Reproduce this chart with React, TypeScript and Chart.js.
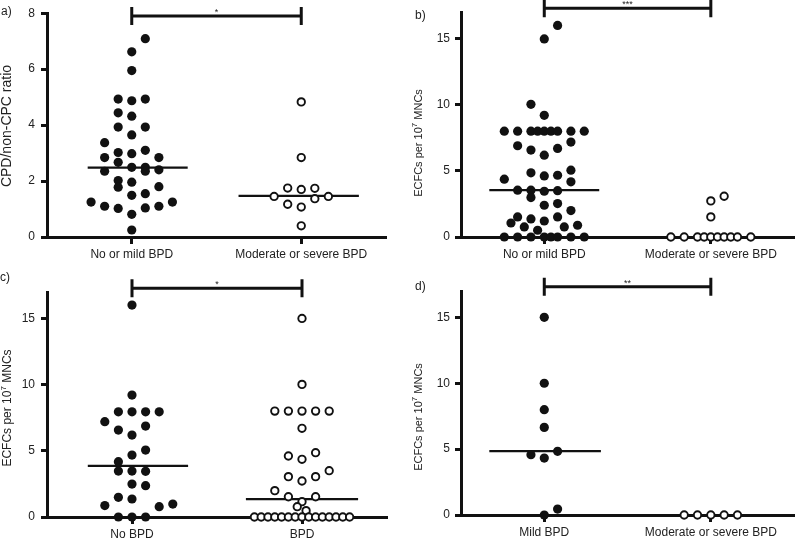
import React, { useEffect, useRef } from 'react';
import { Chart, registerables } from 'chart.js';

Chart.register(...registerables);

const FONT = '"Liberation Sans", Arial, Helvetica, sans-serif';
const INK = '#111';
const TEXT = '#222';
const COL_STEP = 0.08; // horizontal spacing of one dot column, in category units

// ---------- Panel a ----------
const aCategories = ['No or mild BPD', 'Moderate or severe BPD'];
const aYTicks = [0, 2, 4, 6, 8];
const aGroup1Values = [7.09, 6.62, 5.95, 4.93, 4.87, 4.93, 4.44, 4.32, 3.93, 3.93, 3.65, 3.37, 3.02, 2.98, 3.1, 2.84, 2.67, 2.84, 2.35, 2.49, 2.49, 2.35, 2.4, 2.02, 1.78, 1.96, 1.8, 1.49, 1.55, 1.25, 1.1, 1.02, 1.04, 1.1, 1.25, 0.81, 0.25];
const aGroup1Cols = [1, 0, 0, -1, 0, 1, -1, 0, -1, 1, 0, -2, -1, 0, 1, -2, -1, 2, -2, 0, 1, 1, 2, -1, -1, 0, 2, 0, 1, -3, -2, -1, 1, 2, 3, 0, 0];
const aGroup2Values = [4.83, 2.84, 1.75, 1.7, 1.74, 1.45, 1.45, 1.37, 1.17, 1.07, 0.4];
const aGroup2Cols = [0, 0, -1, 0, 1, -2, 2, 1, -1, 0, 0];
const aMedians = [2.48, 1.47];
const aStars = '*';

// ---------- Panel b ----------
const bCategories = ['No or mild BPD', 'Moderate or severe BPD'];
const bYTicks = [0, 5, 10, 15];
const bGroup1Values = [16.0, 14.98, 10.03, 9.2, 8, 8, 8, 8, 8, 8, 8, 8, 8, 6.9, 6.57, 6.19, 6.7, 7.18, 4.37, 4.85, 4.62, 4.67, 5.05, 4.17, 3.54, 3.54, 3.46, 3.5, 2.98, 2.4, 2.53, 2.0, 1.52, 1.37, 1.52, 1.06, 1.21, 0.76, 0.76, 0.89, 0.51, 0, 0, 0, 0, 0, 0, 0, 0];
const bGroup1Cols = [1, 0, -1, 0, -3, -2, -1, -0.5, 0, 0.5, 1, 2, 3, -2, -1, 0, 1, 2, -3, -1, 0, 1, 2, 2, -2, -1, 0, 1, -1, 0, 1, 2, -2, -1, 1, -2.5, 0, -1.5, 1.5, 2.5, -0.5, -3, -2, -1, 0, 0.5, 1, 2, 3];
const bGroup2Values = [0, 0, 0, 0, 0, 0, 0, 0, 0, 0, 1.52, 2.73, 3.08];
const bGroup2Cols = [-3, -2, -1, -0.5, 0, 0.5, 1, 1.5, 2, 3, 0, 0, 1];
const bMedians = [3.55, 0];
const bStars = '***';

// ---------- Panel c ----------
const cCategories = ['No BPD', 'BPD'];
const cYTicks = [0, 5, 10, 15];
const cGroup1Values = [16.01, 9.21, 7.95, 7.95, 7.95, 7.95, 7.2, 6.57, 6.87, 6.19, 5.06, 4.68, 4.18, 3.47, 3.47, 3.45, 2.49, 2.37, 1.49, 1.36, 0.86, 0.78, 0.98, 0, 0, 0];
const cGroup1Cols = [0, 0, -1, 0, 1, 2, -2, -1, 1, 0, 1, 0, -1, -1, 0, 1, 0, 1, -1, 0, -2, 2, 3, -1, 0, 1];
const cGroup2Values = [15.0, 10.02, 8, 8, 8, 8, 8, 6.7, 4.61, 4.36, 4.86, 3.5, 3.05, 2.72, 3.05, 1.99, 1.53, 1.53, 1.16, 0.78, 0.48, 0, 0, 0, 0, 0, 0, 0, 0, 0, 0, 0, 0, 0, 0, 0];
const cGroup2Cols = [0, 0, -2, -1, 0, 1, 2, 0, -1, 0, 1, 2, -1, 0, 1, -2, -1, 1, 0, -0.35, 0.3, -3.5, -3, -2.5, -2, -1.5, -1, -0.5, 0, 0.5, 1, 1.5, 2, 2.5, 3, 3.5];
const cMedians = [3.87, 1.35];
const cStars = '*';

// ---------- Panel d ----------
const dCategories = ['Mild BPD', 'Moderate or severe BPD'];
const dYTicks = [0, 5, 10, 15];
const dGroup1Values = [15.0, 10.0, 7.99, 6.65, 4.58, 4.32, 4.83, 0.45, 0];
const dGroup1Cols = [0, 0, 0, 0, -1, 0, 1, 1, 0];
const dGroup2Values = [0, 0, 0, 0, 0];
const dGroup2Cols = [-2, -1, 0, 1, 2];
const dMedians = [4.85, 0];
const dStars = '**';

const CPD_TITLE = [{ t: 'CPD/non-CPC ratio' }];
const ECFC_TITLE = [{ t: 'ECFCs per 10' }, { t: '7', sup: true }, { t: ' MNCs' }];

type PanelDef = {
  left: number; top: number;
  label: string; labelX: number; labelY: number;
  cats: string[]; yMax: number; yTicks: number[];
  v1: number[]; c1: number[]; v2: number[]; c2: number[];
  medians: number[]; spans: number[][];
  stars: string; sigY: number;
  yWidth: number; padTop: number; padRight: number; xHeight: number;
  title: { t: string; sup?: boolean }[]; titleSize: number; titleX: number; titleY: number;
  yTickPad: number;
};

const panels: PanelDef[] = [
  {
    left: 0, top: 0, label: 'a)', labelX: 1, labelY: 12,
    cats: aCategories, yMax: 8, yTicks: aYTicks,
    v1: aGroup1Values, c1: aGroup1Cols, v2: aGroup2Values, c2: aGroup2Cols,
    medians: aMedians, spans: [[-0.26, 0.33], [-0.37, 0.34]],
    stars: aStars, sigY: 7.9,
    yWidth: 47, padTop: 11, padRight: 14, xHeight: 32,
    title: CPD_TITLE, titleSize: 14, titleX: 7, titleY: 126, yTickPad: 6,
  },
  {
    left: 400, top: 0, label: 'b)', labelX: 15, labelY: 16,
    cats: bCategories, yMax: 17, yTicks: bYTicks,
    v1: bGroup1Values, c1: bGroup1Cols, v2: bGroup2Values, c2: bGroup2Cols,
    medians: bMedians, spans: [[-0.33, 0.33], [-0.33, 0.33]],
    stars: bStars, sigY: 17.3,
    yWidth: 61, padTop: 12, padRight: 3, xHeight: 32,
    title: ECFC_TITLE, titleSize: 11, titleX: 19, titleY: 143, yTickPad: 5,
  },
  {
    left: 0, top: 269, label: 'c)', labelX: 0, labelY: 9,
    cats: cCategories, yMax: 17, yTicks: cYTicks,
    v1: cGroup1Values, c1: cGroup1Cols, v2: cGroup2Values, c2: cGroup2Cols,
    medians: cMedians, spans: [[-0.26, 0.33], [-0.33, 0.33]],
    stars: cStars, sigY: 17.28,
    yWidth: 47, padTop: 23, padRight: 13, xHeight: 21,
    title: ECFC_TITLE, titleSize: 12, titleX: 8, titleY: 139, yTickPad: 6,
  },
  {
    left: 400, top: 269, label: 'd)', labelX: 15, labelY: 18,
    cats: dCategories, yMax: 17, yTicks: dYTicks,
    v1: dGroup1Values, c1: dGroup1Cols, v2: dGroup2Values, c2: dGroup2Cols,
    medians: dMedians, spans: [[-0.33, 0.34], [-0.33, 0.33]],
    stars: dStars, sigY: 17.32,
    yWidth: 61, padTop: 22, padRight: 3, xHeight: 23,
    title: ECFC_TITLE, titleSize: 11, titleX: 19, titleY: 148, yTickPad: 5,
  },
];

function overlayPlugin(p: PanelDef) {
  return {
    id: 'overlay',
    afterDraw(chart: any) {
      const ctx: CanvasRenderingContext2D = chart.ctx;
      const xs = chart.scales.x;
      const ys = chart.scales.y;
      const x1 = xs.getPixelForValue(1);
      const x2 = xs.getPixelForValue(2);
      const yb = ys.getPixelForValue(p.sigY);
      ctx.save();
      // significance bracket
      ctx.strokeStyle = INK;
      ctx.lineWidth = 3;
      ctx.beginPath();
      ctx.moveTo(x1, yb);
      ctx.lineTo(x2, yb);
      ctx.moveTo(x1, yb - 9);
      ctx.lineTo(x1, yb + 9);
      ctx.moveTo(x2, yb - 9);
      ctx.lineTo(x2, yb + 9);
      ctx.stroke();
      ctx.fillStyle = TEXT;
      ctx.font = `9px ${FONT}`;
      ctx.textAlign = 'center';
      ctx.textBaseline = 'alphabetic';
      ctx.fillText(p.stars, (x1 + x2) / 2, yb - 1);
      // panel label
      ctx.font = `12px ${FONT}`;
      ctx.textAlign = 'left';
      ctx.textBaseline = 'middle';
      ctx.fillText(p.label, p.labelX, p.labelY);
      // y axis title (rotated, with superscript)
      ctx.translate(p.titleX, p.titleY);
      ctx.rotate(-Math.PI / 2);
      const big = `${p.titleSize}px ${FONT}`;
      const small = `${Math.round(p.titleSize * 0.7)}px ${FONT}`;
      let total = 0;
      const widths = p.title.map((s) => {
        ctx.font = s.sup ? small : big;
        const w = ctx.measureText(s.t).width;
        total += w;
        return w;
      });
      let x = -total / 2;
      ctx.textAlign = 'left';
      p.title.forEach((s, i) => {
        ctx.font = s.sup ? small : big;
        ctx.fillText(s.t, x, s.sup ? -p.titleSize * 0.38 : 0);
        x += widths[i];
      });
      ctx.restore();
    },
  };
}

function buildConfig(p: PanelDef): any {
  const pts = (vals: number[], cols: number[], center: number) =>
    vals.map((v, i) => ({ x: center + cols[i] * COL_STEP, y: v }));
  const med = (m: number, span: number[], center: number) => [
    { x: center + span[0], y: m },
    { x: center + span[1], y: m },
  ];
  const lineDs = (m: number, span: number[], center: number) => ({
    type: 'line',
    data: med(m, span, center),
    borderColor: INK,
    borderWidth: 2.2,
    pointRadius: 0,
    showLine: true,
    fill: false,
    order: 2,
    clip: false,
  });
  return {
    type: 'scatter',
    data: {
      datasets: [
        {
          data: pts(p.v1, p.c1, 1),
          pointRadius: 4.6,
          backgroundColor: INK,
          borderColor: INK,
          borderWidth: 0,
          order: 0,
          clip: false,
        },
        {
          data: pts(p.v2, p.c2, 2),
          pointRadius: 3.7,
          backgroundColor: '#fff',
          borderColor: INK,
          borderWidth: 1.9,
          order: 0,
          clip: false,
        },
        lineDs(p.medians[0], p.spans[0], 1),
        lineDs(p.medians[1], p.spans[1], 2),
      ],
    },
    options: {
      responsive: false,
      animation: false,
      events: [],
      layout: { padding: { top: p.padTop, right: p.padRight, left: 0, bottom: 0 } },
      plugins: { legend: { display: false }, tooltip: { enabled: false }, title: { display: false } },
      scales: {
        x: {
          type: 'linear',
          min: 0.5,
          max: 2.5,
          z: 1,
          afterBuildTicks: (s: any) => {
            s.ticks = [{ value: 1 }, { value: 2 }];
          },
          afterFit: (s: any) => {
            s.height = p.xHeight;
          },
          ticks: {
            callback: (_v: any, i: number) => p.cats[i],
            color: TEXT,
            font: { family: FONT, size: 12 },
            maxRotation: 0,
            autoSkip: false,
            padding: 3,
          },
          grid: { drawOnChartArea: false, drawTicks: true, tickLength: 7, tickWidth: 3, tickColor: INK },
          border: { display: true, color: INK, width: 3 },
        },
        y: {
          type: 'linear',
          min: 0,
          max: p.yMax,
          z: 1,
          afterBuildTicks: (s: any) => {
            s.ticks = p.yTicks.map((v) => ({ value: v }));
          },
          afterFit: (s: any) => {
            s.width = p.yWidth;
          },
          ticks: { color: TEXT, font: { family: FONT, size: 12 }, padding: p.yTickPad },
          grid: { drawOnChartArea: false, drawTicks: true, tickLength: 6, tickWidth: 3, tickColor: INK },
          border: { display: true, color: INK, width: 3 },
        },
      },
    },
    plugins: [overlayPlugin(p)],
  };
}

function Panel({ p }: { p: PanelDef }) {
  const ref = useRef<HTMLCanvasElement>(null);
  useEffect(() => {
    if (!ref.current) return;
    const chart = new Chart(ref.current, buildConfig(p));
    return () => chart.destroy();
  }, [p]);
  return (
    <canvas
      ref={ref}
      width={400}
      height={269}
      style={{ position: 'absolute', left: p.left, top: p.top, width: 400, height: 269 }}
    />
  );
}

export default function App() {
  return (
    <div style={{ position: 'fixed', left: 0, top: 0, width: 800, height: 538, background: '#fff', overflow: 'hidden' }}>
      {panels.map((p) => (
        <Panel key={p.label} p={p} />
      ))}
    </div>
  );
}
